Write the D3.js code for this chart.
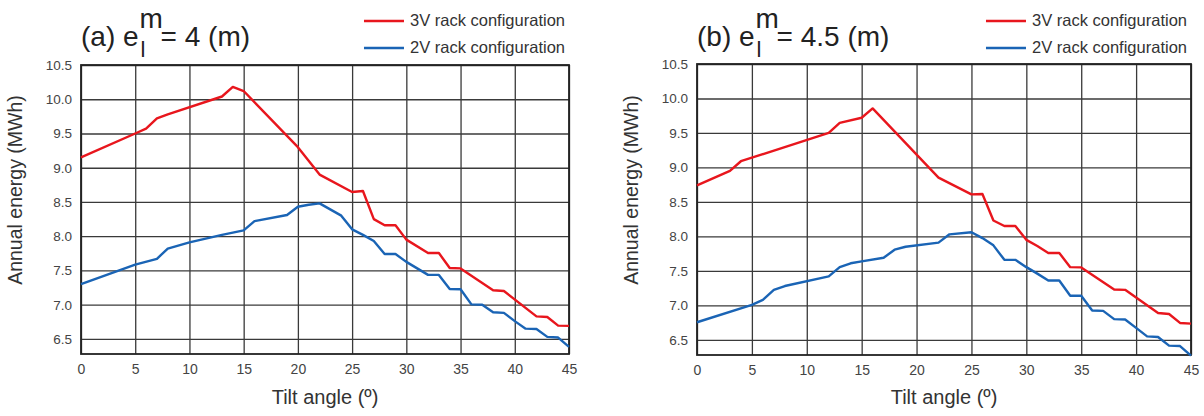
<!DOCTYPE html>
<html>
<head>
<meta charset="utf-8">
<script src="https://cdn.jsdelivr.net/npm/d3@7"></script>
<style>
  body { margin: 0; background: #fff; }
  svg { display: block; font-family: "Liberation Sans", Arial, sans-serif; }
</style>
</head>
<body>
<div id="chart"></div>
<script>
// podaci ocitani sa slike (vrhovi krivulja)
const tiltA3V = [0, 5, 6, 7, 8, 13, 14, 15, 20, 22, 25, 26, 27, 28, 29, 30, 32, 33, 34, 35, 38, 39, 42, 43, 44, 45];
const energyA3V = [9.15, 9.50, 9.57, 9.72, 9.78, 10.04, 10.18, 10.12, 9.30, 8.90, 8.645, 8.66, 8.25, 8.16, 8.16, 7.95, 7.755, 7.755, 7.535, 7.53, 7.21, 7.20, 6.83, 6.82, 6.695, 6.69];

const tiltA2V = [0, 5, 7, 8, 10, 13, 15, 16, 19, 20, 21, 22, 24, 25, 26, 27, 28, 29, 30, 31, 32, 33, 34, 35, 36, 37, 38, 39, 40, 41, 42, 43, 44, 45];
const energyA2V = [7.30, 7.585, 7.67, 7.82, 7.91, 8.02, 8.085, 8.22, 8.31, 8.43, 8.46, 8.48, 8.30, 8.10, 8.02, 7.93, 7.74, 7.74, 7.625, 7.53, 7.435, 7.435, 7.23, 7.225, 7.005, 7.0, 6.89, 6.88, 6.76, 6.65, 6.645, 6.53, 6.52, 6.385];

const tiltB3V = [0, 3, 4, 12, 13, 15, 16, 22, 25, 26, 27, 28, 29, 30, 31, 32, 33, 34, 35, 38, 39, 42, 43, 44, 45];
const energyB3V = [8.74, 8.95, 9.09, 9.50, 9.647, 9.72, 9.856, 8.853, 8.61, 8.615, 8.23, 8.15, 8.15, 7.95, 7.86, 7.76, 7.76, 7.554, 7.55, 7.23, 7.225, 6.89, 6.875, 6.745, 6.735];

const tiltB2V = [0, 5, 6, 7, 8, 12, 13, 14, 15, 17, 18, 19, 22, 23, 25, 26, 27, 28, 29, 30, 31, 32, 33, 34, 35, 36, 37, 38, 39, 40, 41, 42, 43, 44, 45];
const energyB2V = [6.755, 7.007, 7.08, 7.225, 7.28, 7.42, 7.554, 7.61, 7.637, 7.69, 7.807, 7.85, 7.91, 8.03, 8.06, 7.975, 7.87, 7.66, 7.66, 7.554, 7.46, 7.36, 7.36, 7.14, 7.14, 6.925, 6.92, 6.80, 6.795, 6.673, 6.55, 6.54, 6.416, 6.41, 6.27];

const xTicks = [0, 5, 10, 15, 20, 25, 30, 35, 40, 45];
const yTicks = [6.5, 7.0, 7.5, 8.0, 8.5, 9.0, 9.5, 10.0, 10.5];
const legendLabels = ["3V rack configuration", "2V rack configuration"];
const seriesColors = ["#e8161d", "#1a64b5"];
const panelLabels = ["(a) e", "(b) e"];
const panelValues = ["= 4 (m)", "= 4.5 (m)"];

const width = 1204, height = 416;

const svg = d3.select("#chart").append("svg")
  .attr("width", width)
  .attr("height", height);

const paneli = [
  { left: 81, right: 569, top: 65, bottom: 354, series: [[tiltA3V, energyA3V], [tiltA2V, energyA2V]] },
  { left: 697, right: 1191, top: 64, bottom: 355, series: [[tiltB3V, energyB3V], [tiltB2V, energyB2V]] }
];

paneli.forEach((p, pi) => {
  const x = d3.scaleLinear().domain([0, 45]).range([p.left, p.right]);
  const y = d3.scaleLinear().domain([6.28, 10.5]).range([p.bottom, p.top]);

  const g = svg.append("g");

  // mreza
  g.append("g")
    .attr("transform", `translate(0,${p.bottom})`)
    .call(d3.axisBottom(x).tickValues(xTicks).tickSize(-(p.bottom - p.top)).tickFormat(d3.format("d")).tickPadding(10))
    .call(a => a.select(".domain").remove())
    .call(a => a.selectAll("line").attr("stroke", "#3a3a3a").attr("stroke-width", 1.3))
    .call(a => a.selectAll("text").attr("fill", "#444").style("font-size", "14px"));

  g.append("g")
    .attr("transform", `translate(${p.left},0)`)
    .call(d3.axisLeft(y).tickValues(yTicks).tickSize(-(p.right - p.left)).tickFormat(d3.format(".1f")).tickPadding(9))
    .call(a => a.select(".domain").remove())
    .call(a => a.selectAll("line").attr("stroke", "#3a3a3a").attr("stroke-width", 1.3))
    .call(a => a.selectAll("text").attr("fill", "#444").style("font-size", "13.5px"));

  g.append("rect")
    .attr("x", p.left).attr("y", p.top)
    .attr("width", p.right - p.left).attr("height", p.bottom - p.top)
    .attr("fill", "none").attr("stroke", "#222").attr("stroke-width", 1.8);

  // krivulje
  const linija = d3.line().x(d => x(d[0])).y(d => y(d[1]));
  p.series.forEach((s, si) => {
    const tocke = s[0].map((t, i) => [t, s[1][i]]);
    g.append("path")
      .datum(tocke)
      .attr("d", linija)
      .attr("fill", "none")
      .attr("stroke", seriesColors[si])
      .attr("stroke-width", 2.4)
      .attr("stroke-linejoin", "round");
  });

  // naslovi osi
  g.append("text")
    .attr("x", (p.left + p.right) / 2)
    .attr("y", 404)
    .attr("text-anchor", "middle")
    .attr("fill", "#333")
    .style("font-size", "20px")
    .text("Tilt angle (º)");

  g.append("text")
    .attr("transform", `translate(${p.left - 59},190) rotate(-90)`)
    .attr("text-anchor", "middle")
    .attr("fill", "#333")
    .style("font-size", "19.5px")
    .text("Annual energy (MWh)");

  // naslov panela
  const naslov = g.append("text")
    .attr("x", p.left)
    .attr("y", 46)
    .attr("fill", "#222")
    .style("font-size", "28px")
    .text(panelLabels[pi]);
  const sirina = naslov.node().getComputedTextLength();
  const mx = p.left + sirina + 1;
  g.append("text").attr("x", mx).attr("y", 28).attr("fill", "#222")
    .style("font-size", "28px").text("m");
  g.append("text").attr("x", mx + 1).attr("y", 57).attr("fill", "#222")
    .style("font-size", "22px").text("l");
  g.append("text").attr("x", mx + 21).attr("y", 46).attr("fill", "#222")
    .style("font-size", "28px").text(panelValues[pi]);

  // legenda
  legendLabels.forEach((lab, li) => {
    const ty = 26 + li * 27;
    const t = g.append("text")
      .attr("x", p.right - 4)
      .attr("y", ty)
      .attr("text-anchor", "end")
      .attr("fill", "#333")
      .style("font-size", "16.5px")
      .text(lab);
    const tw = t.node().getComputedTextLength();
    const x0 = p.right - 4 - tw;
    g.append("line")
      .attr("x1", x0 - 46).attr("x2", x0 - 6)
      .attr("y1", ty - 5).attr("y2", ty - 5)
      .attr("stroke", seriesColors[li])
      .attr("stroke-width", 2.5);
  });
});
</script>
</body>
</html>
